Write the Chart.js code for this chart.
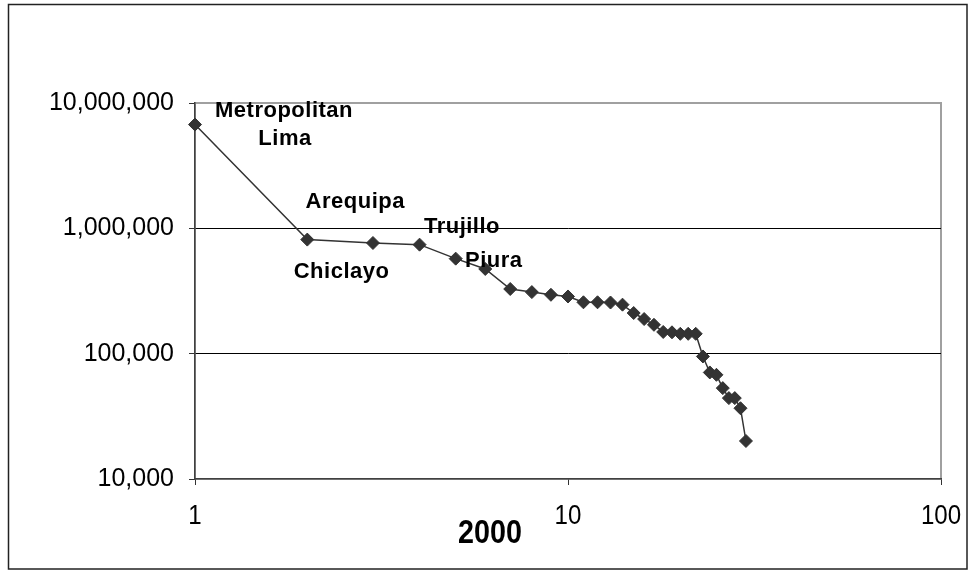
<!DOCTYPE html>
<html>
<head>
<meta charset="utf-8">
<script src="https://cdn.jsdelivr.net/npm/chart.js@4"></script>
<style>
	html, body { margin: 0; padding: 0; background: #fff; overflow: hidden; }
	#wrap { width: 969px; height: 571px; }
</style>
</head>
<body>
<div id="wrap"><canvas id="canvas" width="969" height="571"></canvas></div>
<script>
// city rank (2000) and population
var ranks = [1, 2, 3, 4, 5, 6, 7, 8, 9, 10, 11, 12, 13, 14, 15, 16, 17, 18, 19, 20, 21, 22, 23, 24, 25, 26, 27, 28, 29, 30];
var population = [6730000, 813000, 764000, 741000, 573000, 474000, 328000, 310000, 295000, 286000,
	257000, 257000, 256000, 246000, 211000, 189000, 170000, 149000, 148000, 144000,
	144000, 144000, 95000, 70800, 67800, 53100, 44200, 44200, 36700, 20100];
var cityNames = ["Metropolitan\nLima", "Arequipa", "Trujillo", "Chiclayo", "Piura"];
var xTicks = [1, 10, 100];
var yTicks = [10000, 100000, 1000000, 10000000];
var xTitle = "2000";

var points = [];
for (var i = 0; i < ranks.length; i++) {
	points.push({ x: ranks[i], y: population[i] });
}

var sans = '"Liberation Sans", Arial, sans-serif';

// frame round the whole chart + grey plot border
var framePlugin = {
	id: 'frame',
	beforeDraw: function(chart) {
		var ctx = chart.ctx;
		var a = chart.chartArea;
		ctx.save();
		ctx.fillStyle = '#fff';
		ctx.fillRect(0, 0, chart.width, chart.height);
		ctx.strokeStyle = '#222';
		ctx.lineWidth = 1.5;
		ctx.strokeRect(8.5, 4.5, 958.5, 564.5);
		ctx.strokeStyle = '#a0a0a0';
		ctx.lineWidth = 2;
		ctx.strokeRect(a.left, a.top, a.right - a.left, a.bottom - a.top);
		ctx.restore();
	}
};

// narrow-looking text (squeezed horizontally), like the original's x labels
function narrowText(ctx, text, x, y, font, squeeze) {
	ctx.save();
	ctx.font = font;
	ctx.fillStyle = '#000';
	ctx.textAlign = 'center';
	ctx.textBaseline = 'middle';
	ctx.translate(x, y);
	ctx.scale(squeeze, 1);
	ctx.fillText(text, 0, 0);
	ctx.restore();
}

// x tick labels and the axis title
var xLabelPlugin = {
	id: 'xlabels',
	afterDraw: function(chart) {
		var ctx = chart.ctx;
		var sx = chart.scales.x;
		var a = chart.chartArea;
		for (var i = 0; i < xTicks.length; i++) {
			narrowText(ctx, String(xTicks[i]), sx.getPixelForValue(xTicks[i]), a.bottom + 37, '28px ' + sans, 0.86);
		}
		narrowText(ctx, xTitle, 490, a.bottom + 55, 'bold 33px ' + sans, 0.87);
	}
};

// city names beside the first points
var nameOffsets = [
	[[89, -8], [90, 20]],
	[[48, -32]],
	[[89, -10]],
	[[-78, 33]],
	[[38, 8]]
];
var namesPlugin = {
	id: 'names',
	afterDatasetsDraw: function(chart) {
		var ctx = chart.ctx;
		var meta = chart.getDatasetMeta(0);
		ctx.save();
		ctx.font = 'bold 22px ' + sans;
		ctx.letterSpacing = '0.5px';
		ctx.fillStyle = '#000';
		ctx.textAlign = 'center';
		ctx.textBaseline = 'alphabetic';
		for (var i = 0; i < cityNames.length; i++) {
			var pt = meta.data[i];
			var lines = cityNames[i].split("\n");
			for (var j = 0; j < lines.length; j++) {
				var off = nameOffsets[i][j];
				ctx.fillText(lines[j], pt.x + off[0], pt.y + off[1]);
			}
		}
		ctx.restore();
	}
};

var ctx = document.getElementById("canvas").getContext("2d");
var chart = new Chart(ctx, {
	type: 'scatter',
	data: {
		datasets: [{
			data: points,
			showLine: true,
			borderColor: '#333',
			borderWidth: 1.5,
			pointStyle: 'rectRot',
			pointRadius: 6.5,
			pointBackgroundColor: '#333',
			pointBorderColor: '#333',
			pointBorderWidth: 1,
			clip: false
		}]
	},
	options: {
		responsive: false,
		animation: false,
		layout: { padding: { top: 103, right: 28, left: 40, bottom: 32 } },
		plugins: {
			legend: { display: false },
			tooltip: { enabled: false },
			title: { display: false }
		},
		scales: {
			x: {
				type: 'logarithmic',
				min: 1,
				max: 100,
				afterBuildTicks: function(scale) {
					scale.ticks = xTicks.map(function(v) { return { value: v }; });
				},
				afterFit: function(scale) {
					scale.height = 60;
					scale.paddingLeft = 0;
					scale.paddingRight = 0;
				},
				grid: { color: 'transparent', tickColor: '#333', tickLength: 6, lineWidth: 1 },
				border: { color: '#404040', width: 1.5 },
				ticks: { display: false }
			},
			y: {
				type: 'logarithmic',
				min: 10000,
				max: 10000000,
				afterBuildTicks: function(scale) {
					scale.ticks = yTicks.map(function(v) { return { value: v }; });
				},
				afterFit: function(scale) {
					scale.width = 155;
					scale.paddingTop = 0;
					scale.paddingBottom = 0;
				},
				grid: {
					color: function(c) {
						if (c.tick && (c.tick.value === 1000000 || c.tick.value === 100000)) return '#000';
						return 'transparent';
					},
					tickColor: '#333',
					tickLength: 6,
					lineWidth: 1
				},
				border: { color: '#404040', width: 1.5 },
				ticks: {
					color: '#000',
					padding: 15,
					autoSkip: false,
					font: { family: sans, size: 25 },
					callback: function(v) { return Number(v).toLocaleString('en-US'); }
				}
			}
		}
	},
	plugins: [framePlugin, xLabelPlugin, namesPlugin]
});
</script>
</body>
</html>
